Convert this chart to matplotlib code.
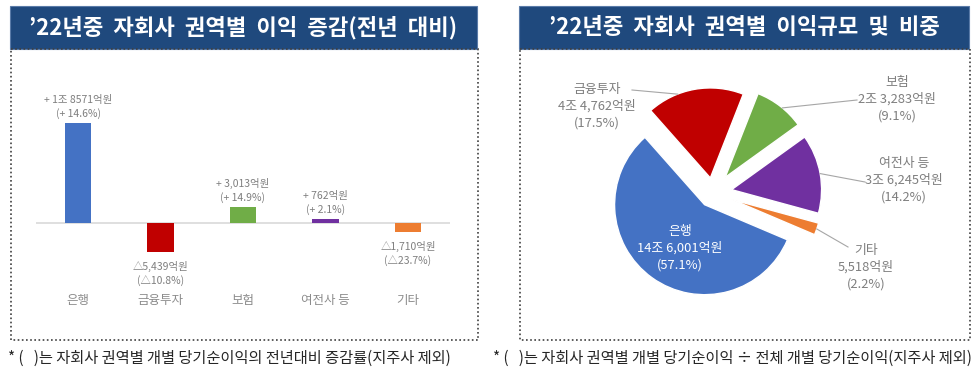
import matplotlib
matplotlib.use('Agg')
import matplotlib.pyplot as plt
from matplotlib.patches import Rectangle
import numpy as np

plt.rcParams['font.family'] = ['Noto Sans CJK KR', 'DejaVu Sans']

# ---------------- data ----------------
categories = ['은행', '금융투자', '보험', '여전사 등', '기타']
colors = ['#4472C4', '#C00000', '#70AD47', '#7030A0', '#ED7D31']

change_eok = [18571, -5439, 3013, 762, -1710]
change_amt_labels = ['+ 1조 8571억원', '△5,439억원', '+ 3,013억원', '+ 762억원', '△1,710억원']
change_pct_labels = ['(+ 14.6%)', '(△10.8%)', '(+ 14.9%)', '(+ 2.1%)', '(△23.7%)']

profit_eok = [146001, 44762, 23283, 36245, 5518]
profit_labels = ['14조 6,001억원', '4조 4,762억원', '2조 3,283억원', '3조 6,245억원', '5,518억원']
share_labels = ['(57.1%)', '(17.5%)', '(9.1%)', '(14.2%)', '(2.2%)']

title_left = "’22년중  자회사  권역별  이익  증감(전년  대비)"
title_right = "’22년중  자회사  권역별  이익규모  및  비중"
note_left = "* (   )는 자회사 권역별 개별 당기순이익의 전년대비 증감률(지주사 제외)"
note_right = "* (   )는 자회사 권역별 개별 당기순이익 ÷ 전체 개별 당기순이익(지주사 제외)"

# ---------------- layout helpers ----------------
W, H = 979, 372
fig = plt.figure(figsize=(W / 100, H / 100), dpi=100)


def px_axes(x0, y0, x1, y1):
    a = fig.add_axes([x0 / W, 1 - y1 / H, (x1 - x0) / W, (y1 - y0) / H])
    a.patch.set_alpha(0)
    return a


def overlay():
    a = px_axes(0, 0, W, H)
    a.set_xlim(0, W)
    a.set_ylim(H, 0)
    a.axis('off')
    return a


bg = overlay()
for x0, x1, title, note, nx in [(10, 477, title_left, note_left, 8),
                                (519, 969, title_right, note_right, 493)]:
    bg.add_patch(Rectangle((x0, 6), x1 - x0, 43, facecolor='#1F497D',
                           edgecolor='#5A7BA8', lw=0.8))
    bg.text((x0 + x1) / 2, 28, title, color='white', fontsize=16,
            fontweight='bold', ha='center', va='center')
    bg.add_patch(Rectangle((x0 + 1, 49), x1 - x0, 291, fill=False,
                           edgecolor='#404040', lw=1.2, linestyle=(0, (1, 1.5))))
    bg.text(nx, 358, note, fontsize=11, color='#262626', ha='left', va='center')

# ---------------- bar chart ----------------
ax = px_axes(36, 80, 450, 290)
x = np.arange(len(categories))
scale = 100 / max(change_eok)  # pixels per 억원
ax.set_ylim(-(290 - 223) / scale, (223 - 80) / scale)
ax.set_xlim(-0.51, len(categories) - 0.49)
ax.bar(x, change_eok, width=0.32, color=colors, zorder=3)
ax.axhline(0, color='#D9D9D9', lw=1.2, zorder=2)
for s in ax.spines.values():
    s.set_visible(False)
ax.set_yticks([])
ax.set_xticks(x, categories, fontsize=9, color='#8C8C8C')
ax.tick_params(axis='x', length=0, pad=3)
for xi, v, a, p in zip(x, change_eok, change_amt_labels, change_pct_labels):
    if v >= 0:
        ax.annotate(a + '\n' + p, (xi, v), xytext=(0, 4), textcoords='offset pixels',
                    ha='center', va='bottom', fontsize=7.5, color='#7F7F7F',
                    linespacing=1.35)
    else:
        ax.annotate(a + '\n' + p, (xi, v), xytext=(0, -9), textcoords='offset pixels',
                    ha='center', va='top', fontsize=7.5, color='#7F7F7F',
                    linespacing=1.35)

# ---------------- pie chart ----------------
cx, cy, R = 713, 193, 90
pax = px_axes(540, 60, 900, 320)
explode = [0.16, 0.17, 0.22, 0.21, 0.22]
wedges, _ = pax.pie(profit_eok, colors=colors, explode=explode, startangle=-23,
                    counterclock=False, radius=1,
                    wedgeprops=dict(edgecolor='white', linewidth=1))
pax.set_aspect('auto')
pax.set_xlim((540 - cx) / R, (900 - cx) / R)
pax.set_ylim((cy - 320) / R, (cy - 60) / R)
pax.axis('off')

top = overlay()
label_pos = [(680, 248), (597, 106), (897, 99), (904, 180), (866, 267)]
anchor_frac = [None, 0.68, 0.45, 0.5, 0.5]
line_end = [None, (632, 90), (857, 100), (865, 182), (848, 247)]

for i, w in enumerate(wedges):
    txt = f"{categories[i]}\n{profit_labels[i]}\n{share_labels[i]}"
    col = 'white' if i == 0 else '#7F7F7F'
    lx, ly = label_pos[i]
    top.text(lx, ly, txt, ha='center', va='center', fontsize=9.3, color=col,
             linespacing=1.35, zorder=5)
    if anchor_frac[i] is not None:
        th = np.deg2rad(w.theta1 + anchor_frac[i] * (w.theta2 - w.theta1))
        pt = (w.center[0] + w.r * np.cos(th), w.center[1] + w.r * np.sin(th))
        bx, by = top.transData.inverted().transform(pax.transData.transform(pt))
        ex, ey = line_end[i]
        top.plot([bx, ex], [by, ey], color='#A6A6A6', lw=0.8, zorder=4)

fig.savefig('out.png', dpi=100)
